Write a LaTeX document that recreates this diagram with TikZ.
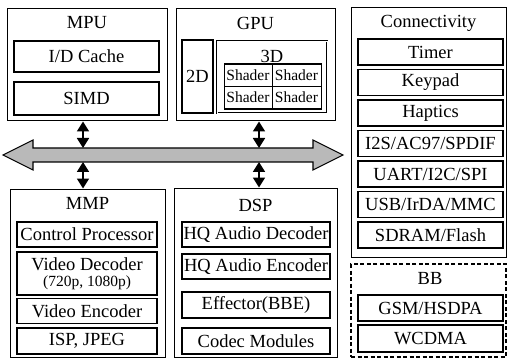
\documentclass[tikz,border=0pt]{standalone}
\usepackage{fontspec}
\setmainfont{Liberation Serif}
\usetikzlibrary{arrows.meta}
\begin{document}
\begin{tikzpicture}[x=1pt,y=-1pt,
  outer/.style={draw,line width=1pt,inner sep=0pt},
  inbox/.style={draw,line width=1.4pt,inner sep=0pt,align=center,font=\fontsize{18.5}{19}\selectfont},
  dashbox/.style={draw,line width=1.1pt,dash pattern=on 4pt off 2.5pt,inner sep=0pt},
  title/.style={inner sep=0pt,font=\fontsize{18.5}{19}\selectfont},
  cell/.style={draw,line width=0.9pt,inner sep=0pt,font=\fontsize{15.5}{16}\selectfont},
  bus/.style={draw,line width=1.1pt,fill=gray!55},
  link/.style={line width=1.8pt,{Triangle[width=12pt,length=10pt]}-{Triangle[width=12pt,length=10pt]}}
]
\useasboundingbox (0,0) rectangle (508,358);

% box given by its corners (x1,y1)-(x2,y2)
\newcommand{\boxat}[7][]{%
  \node[#1,minimum width={#4-#2},minimum height={#5-#3}] (#6) at ({(#2+#4)/2},{(#3+#5)/2}) {#7};}

% ---------- MPU ----------
\boxat[outer]{7}{9}{167}{121}{mpu}{}
\node[title] (mpuT) at (87,23) {MPU};
\boxat[inbox]{14}{41}{159}{72}{cache}{I/D Cache}
\boxat[inbox]{14}{82}{159}{115}{simd}{SIMD}

% ---------- GPU ----------
\boxat[outer]{176}{9}{335}{121}{gpu}{}
\node[title] (gpuT) at (255.5,23) {GPU};
\boxat[inbox]{182}{40}{213}{113}{twod}{2D}
\boxat[outer,double,double distance=0.8pt,line width=0.8pt]{217}{41}{327}{113}{threed}{}
\node[title] (threedT) at (272,56) {3D};
\boxat[cell]{224}{64}{272}{86}{sha}{Shader}
\boxat[cell]{272}{64}{321}{86}{shb}{Shader}
\boxat[cell]{224}{86}{272}{108}{shc}{Shader}
\boxat[cell]{272}{86}{321}{108}{shd}{Shader}
\draw[line width=0.9pt] (224,63) rectangle (321,109);

% ---------- Connectivity ----------
\boxat[outer]{351}{8}{506}{257}{conn}{}
\node[title] (connT) at (428.5,23) {Connectivity};
\boxat[inbox]{358}{39}{503}{65}{timer}{Timer}
\boxat[inbox]{358}{69.5}{503}{95.5}{keypad}{Keypad}
\boxat[inbox]{358}{100}{503}{126}{haptics}{Haptics}
\boxat[inbox]{358}{130.5}{503}{156.5}{iis}{I2S/AC97/SPDIF}
\boxat[inbox]{358}{161}{503}{187}{uart}{UART/I2C/SPI}
\boxat[inbox]{358}{191.5}{503}{217.5}{usb}{USB/IrDA/MMC}
\boxat[inbox]{358}{222}{503}{248}{sdram}{SDRAM/Flash}

% ---------- BB ----------
\boxat[dashbox]{351}{264}{506}{357}{bb}{}
\node[title] (bbT) at (430,278) {BB};
\boxat[inbox]{358}{295}{503}{321}{gsm}{GSM/HSDPA}
\boxat[inbox]{358}{325}{503}{352}{wcdma}{WCDMA}

% ---------- MMP ----------
\boxat[outer]{10}{189}{165}{357}{mmp}{}
\node[title] (mmpT) at (87.5,203) {MMP};
\boxat[inbox]{17}{222}{157}{247}{cpu}{Control Processor}
\boxat[inbox]{17}{252}{157}{295}{vdec}{Video Decoder\\[-3pt]{\fontsize{15.5}{15.5}\selectfont(720p, 1080p)}}
\boxat[inbox]{17}{298.5}{157}{323.5}{venc}{Video Encoder}
\boxat[inbox]{17}{328}{157}{354}{isp}{ISP, JPEG}

% ---------- DSP ----------
\boxat[outer]{174}{188}{337}{357}{dsp}{}
\node[title] (dspT) at (255.5,205) {DSP};
\boxat[inbox]{182}{222}{330}{247}{hqdec}{HQ Audio Decoder}
\boxat[inbox]{182}{254}{330}{279}{hqenc}{HQ Audio Encoder}
\boxat[inbox]{182}{292}{330}{318}{eff}{Effector(BBE)}
\boxat[inbox]{182}{328}{330}{354}{codec}{Codec Modules}

% ---------- system bus ----------
\draw[bus] (3,155) -- (33,140) -- (33,148) -- (313,148) -- (313,140) -- (343,155)
  -- (313,170) -- (313,162) -- (33,162) -- (33,170) -- cycle;
\coordinate (busA) at (83,148);
\coordinate (busB) at (83,162);
\coordinate (busC) at (259,148);
\coordinate (busD) at (259,162);

\draw[link] (mpu.south -| busA) -- (busA);
\draw[link] (busB) -- (mmp.north -| busB);
\draw[link] (gpu.south -| busC) -- (busC);
\draw[link] (busD) -- (dsp.north -| busD);
\end{tikzpicture}
\end{document}
